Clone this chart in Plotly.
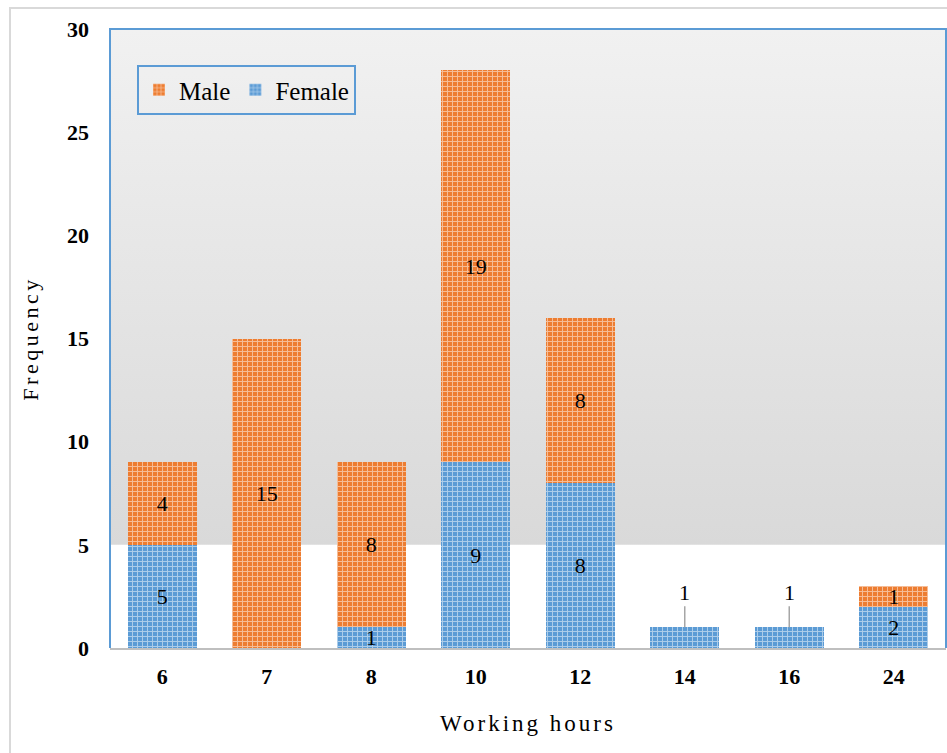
import plotly.graph_objects as go

categories = ["6", "7", "8", "10", "12", "14", "16", "24"]
female = [5, 0, 1, 9, 8, 1, 1, 2]
male = [4, 15, 8, 19, 8, 0, 0, 1]
callout_categories = ["14", "16"]
y_ticks = [0, 5, 10, 15, 20, 25, 30]

SERIF = "Liberation Serif"
BLUE = "#5B9BD5"
ORANGE = "#ED7D31"

W, H = 947, 753
ML, MR, MT, MB = 110, 1, 29, 105
pw = W - ML - MR
ph = H - MT - MB

idx = list(range(len(categories)))
xr = [-0.5, len(categories) - 0.5]

def lbl(v, cat, allow_callout=False):
    if v == 0:
        return ""
    if allow_callout and cat in callout_categories:
        return ""
    return str(v)

fig = go.Figure()

# gradient background band on the base subplot
fig.add_trace(go.Scatter(
    x=[xr[0], xr[1], xr[1], xr[0], xr[0]],
    y=[5, 5, 30, 30, 5],
    mode="lines", line=dict(width=0), fill="toself",
    fillgradient=dict(type="vertical", colorscale=[[0, "#d9d9d9"], [1, "#f1f1f1"]]),
    showlegend=False, hoverinfo="skip", xaxis="x", yaxis="y",
))

pattern = dict(shape="+", fgcolor="white", fgopacity=0.5, size=5, solidity=0.35)
tf = dict(family=SERIF, size=22, color="black")

fig.add_trace(go.Bar(
    name="Female", x=idx, y=female, xaxis="x2", yaxis="y2",
    marker=dict(color=BLUE, line=dict(width=0), pattern=pattern),
    text=[lbl(v, c, True) for v, c in zip(female, categories)],
    textposition="inside", insidetextanchor="middle", constraintext="none",
    textangle=0, textfont=tf, insidetextfont=tf,
))
fig.add_trace(go.Bar(
    name="Male", x=idx, y=male, xaxis="x2", yaxis="y2",
    marker=dict(color=ORANGE, line=dict(width=0), pattern=pattern),
    text=[lbl(v, c) for v, c in zip(male, categories)],
    textposition="inside", insidetextanchor="middle", constraintext="none",
    textangle=0, textfont=tf, insidetextfont=tf,
))

for i, (c, f, m) in enumerate(zip(categories, female, male)):
    if c in callout_categories and f > 0:
        fig.add_annotation(
            x=i, y=f + m, xref="x2", yref="y2", text=str(f), showarrow=True,
            arrowhead=0, arrowwidth=1.5, arrowcolor="#a6a6a6", ax=0, ay=-35,
            font=tf,
        )

# plot area border (left, top, right) in blue
fig.add_shape(type="path", xref="paper", yref="paper",
              path="M 0,0 L 0,1 L 1,1 L 1,0", line=dict(color=BLUE, width=2),
              layer="above")
# outer light frame
fx = (10 - ML) / pw
fy = 1 + (MT - 8) / ph
fig.add_shape(type="path", xref="paper", yref="paper",
              path=f"M {fx},-0.3 L {fx},{fy} L 1.05,{fy}",
              line=dict(color="#d9d9d9", width=2), layer="above")

fig.update_layout(
    width=W, height=H,
    margin=dict(l=ML, r=MR, t=MT, b=MB),
    barmode="stack", bargap=0.34,
    paper_bgcolor="white", plot_bgcolor="white",
    font=dict(family=SERIF, color="black"),
    showlegend=True,
    legend=dict(
        orientation="h", traceorder="reversed",
        x=(137 - ML) / pw, y=(MT + ph - 65) / ph,
        xanchor="left", yanchor="top",
        bgcolor="rgba(0,0,0,0)", bordercolor=BLUE, borderwidth=2,
        font=dict(family=SERIF, size=25, color="black"),
        itemwidth=30,
    ),
    xaxis=dict(
        range=xr, tickmode="array", tickvals=idx, ticktext=categories,
        showgrid=False, zeroline=False,
        showline=True, linecolor="#bfbfbf", linewidth=2,
        ticks="", ticklabelstandoff=8,
        tickfont=dict(family=SERIF, size=22, color="black", weight="bold"),
        title=dict(text='<span style="letter-spacing:3px">Working hours</span>',
                   font=dict(family=SERIF, size=23, color="black"), standoff=26),
    ),
    yaxis=dict(
        range=[0, 30], tickmode="array", tickvals=y_ticks,
        showgrid=False, zeroline=False, showline=False,
        ticks="", ticklabelstandoff=20,
        tickfont=dict(family=SERIF, size=22, color="black", weight="bold"),
        title=dict(text='<span style="letter-spacing:3.5px">Frequency</span>',
                   font=dict(family=SERIF, size=22, color="black"), standoff=22),
    ),
    xaxis2=dict(range=xr, overlaying="x", visible=False),
    yaxis2=dict(range=[0, 30], overlaying="y", visible=False),
)

fig.write_html("out.html", config={"displayModeBar": False},
               post_script="document.body.style.margin='0';document.body.style.overflow='hidden';")
